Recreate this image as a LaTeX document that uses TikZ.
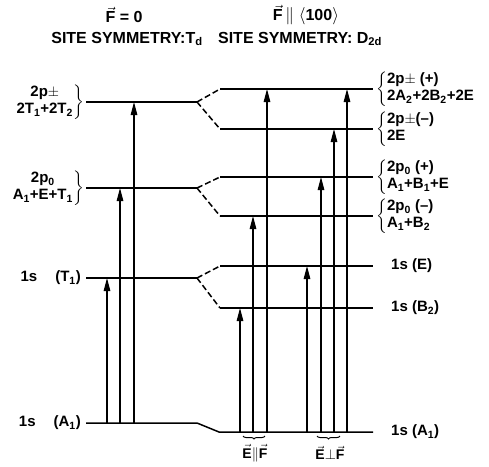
\documentclass[tikz,border=0pt]{standalone}
\usepackage{amsmath}
\usepackage{fontspec}
\setmainfont{Liberation Sans}
\usetikzlibrary{arrows.meta, decorations.pathreplacing}

\newcommand{\lo}[1]{\textsubscript{#1}}
\newcommand{\vv}[1]{$\vec{\text{#1}}$}

\begin{document}
\begin{tikzpicture}[x=1pt, y=-1pt, font=\fontsize{16}{18}\selectfont\bfseries,
		level/.style={line width=1.5pt},
		split/.style={line width=1.5pt, dash pattern=on 6pt off 3pt},
		trans/.style={line width=1.3pt, -{Triangle[length=13pt, width=6.5pt]}},
		grp/.style={decorate, decoration={brace, mirror, amplitude=3pt}, line width=1pt},
		lab/.style={inner sep=1pt, font=\fontsize{15}{17}\selectfont\bfseries}]
	\useasboundingbox (0,0) rectangle (489,466);

	% headings
	\node (h0) at (124,15) {\vv{F} = 0};
	\node (s0) at (127,39) {SITE SYMMETRY:T\lo{d}};
	\node (h1) at (306,15) {\vv{F}\,$\parallel\langle$100$\rangle$};
	\node (s1) at (300,39) {SITE SYMMETRY: D\lo{2d}};

	% levels: left (T_d) and split right (D_2d)
	\foreach \n/\y/\u/\d in {pm/102/89/129, pz/188/177/216, s/278/266/308} {
		\coordinate (\n L) at (86,\y);
		\coordinate (\n S) at (197,\y);
		\coordinate (\n A) at (220,\u);
		\coordinate (\n B) at (220,\d);
		\coordinate (\n AR) at (373,\u);
		\coordinate (\n BR) at (373,\d);
		\draw[level] (\n L) -- (\n S);
		\draw[split] (\n S) -- (\n A);
		\draw[split] (\n S) -- (\n B);
		\draw[level] (\n A) -- (\n AR);
		\draw[level] (\n B) -- (\n BR);
	}
	\coordinate (a1L) at (86,423);
	\coordinate (a1S) at (197,423);
	\coordinate (a1A) at (219,432);
	\coordinate (a1R) at (373,432);
	\draw[level] (a1L) -- (a1S) -- (a1A) -- (a1R);

	% transitions
	\foreach \c/\x in {t1/107, t2/120, t3/134, u1/240, u2/253, u3/267, u4/307, u5/321, u6/334, u7/347}
		\coordinate (\c) at (\x,0);
	\draw[trans] (t1 |- a1L) -- (t1 |- sL);
	\draw[trans] (t2 |- a1L) -- (t2 |- pzL);
	\draw[trans] (t3 |- a1L) -- (t3 |- pmL);
	\draw[trans] (u1 |- a1R) -- (u1 |- sB);
	\draw[trans] (u2 |- a1R) -- (u2 |- pzB);
	\draw[trans] (u3 |- a1R) -- (u3 |- pmA);
	\draw[trans] (u4 |- a1R) -- (u4 |- sA);
	\draw[trans] (u5 |- a1R) -- (u5 |- pzA);
	\draw[trans] (u6 |- a1R) -- (u6 |- pmB);
	\draw[trans] (u7 |- a1R) -- (u7 |- pmA);

	% polarisation groups
	\coordinate (g1a) at (243,436);
	\coordinate (g1b) at (265,436);
	\coordinate (g2a) at (317,436);
	\coordinate (g2b) at (340,436);
	\draw[grp] (g1a) -- (g1b);
	\draw[grp] (g2a) -- (g2b);
	\node[lab, font=\fontsize{14}{16}\selectfont\bfseries] (epar) at (255,453) {\vv{E}$\parallel$\vv{F}};
	\node[lab, font=\fontsize{14}{16}\selectfont\bfseries] (eperp) at (330,453) {\vv{E}$\perp$\vv{F}};

	% left labels
	\node[lab, anchor=east] (lpm) at ([xshift=-1pt]pmL) {$\left.\begin{tabular}{@{}c@{}}2p$\pm$\\2T\lo1+2T\lo2\end{tabular}\right\}$};
	\node[lab, anchor=east] (lpz) at ([xshift=-1pt]pzL) {$\left.\begin{tabular}{@{}c@{}}2p\lo0\\A\lo1+E+T\lo1\end{tabular}\right\}$};
	\node[lab, anchor=east] (ls) at ([xshift=-4pt]sL) {1s\hspace{1.2em}(T\lo1)};
	\node[lab, anchor=east] (la1) at ([xshift=-4pt]a1L) {1s\hspace{1.2em}(A\lo1)};

	% right labels
	\node[lab, anchor=west] (rpmp) at ([xshift=2pt]pmAR) {$\left\{\begin{tabular}{@{}l@{}}2p$\pm$ (+)\\2A\lo2+2B\lo2+2E\end{tabular}\right.$};
	\node[lab, anchor=west] (rpmm) at ([xshift=2pt]pmBR) {$\left\{\begin{tabular}{@{}l@{}}2p$\pm$(--)\\2E\end{tabular}\right.$};
	\node[lab, anchor=west] (rpzp) at ([xshift=2pt]pzAR) {$\left\{\begin{tabular}{@{}l@{}}2p\lo0 (+)\\A\lo1+B\lo1+E\end{tabular}\right.$};
	\node[lab, anchor=west] (rpzm) at ([xshift=2pt]pzBR) {$\left\{\begin{tabular}{@{}l@{}}2p\lo0 (--)\\A\lo1+B\lo2\end{tabular}\right.$};
	\node[lab, anchor=west] (rse) at ([xshift=17pt]sAR) {1s (E)};
	\node[lab, anchor=west] (rsb) at ([xshift=17pt]sBR) {1s (B\lo2)};
	\node[lab, anchor=west] (ra1) at ([xshift=17pt]a1R) {1s (A\lo1)};
\end{tikzpicture}
\end{document}
